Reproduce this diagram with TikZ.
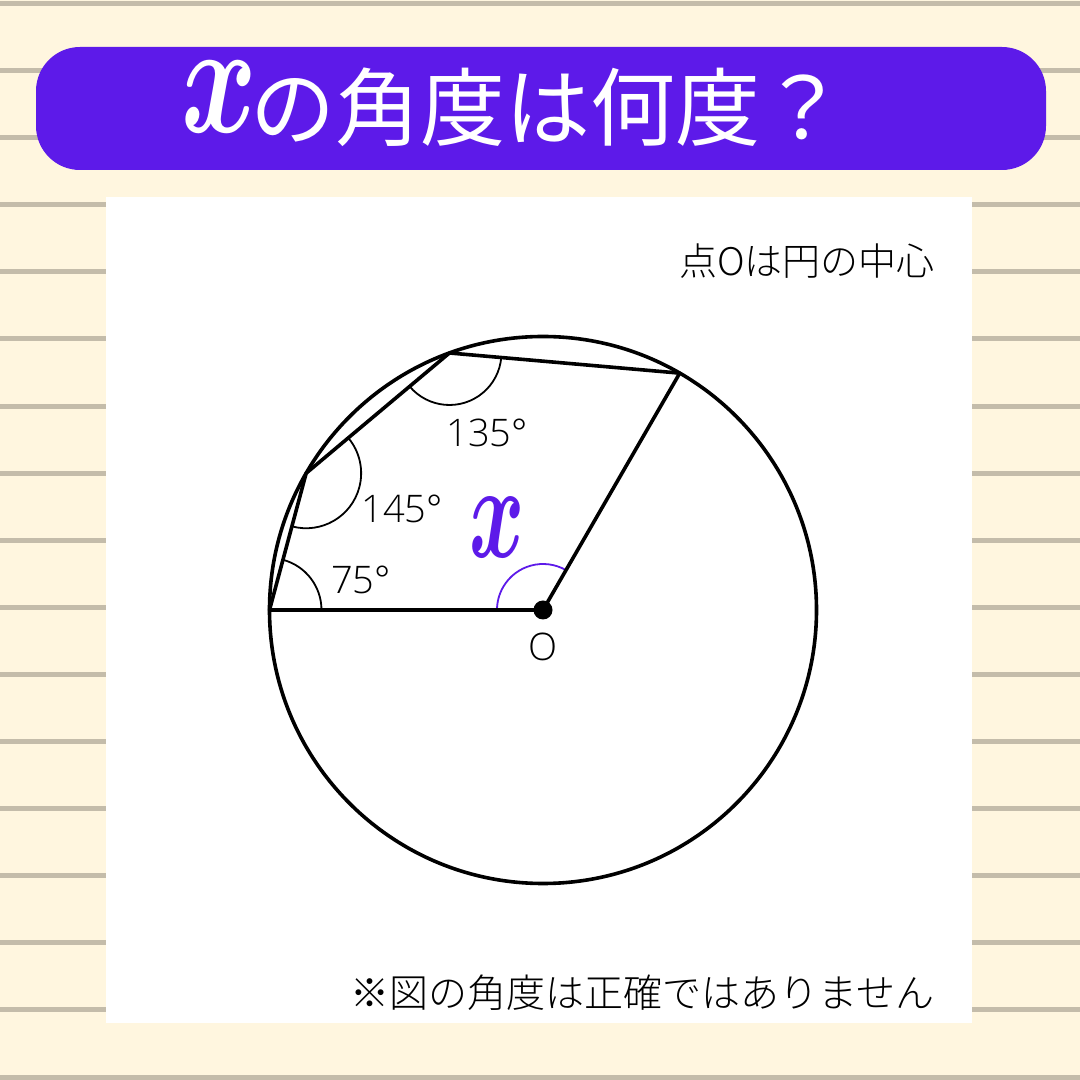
\documentclass[tikz,border=0pt]{standalone}
\usepackage{fontspec}
\usepackage{bm}
\setmainfont{Open Sans Light}
\newfontfamily\jp{Noto Sans CJK JP Light}
\newfontfamily\jpt{Noto Sans CJK JP}
\usetikzlibrary{calc}
\definecolor{cream}{RGB}{255,246,223}
\definecolor{stripe}{RGB}{196,188,170}
\definecolor{vio}{RGB}{93,26,233}
\tikzset{
  thick line/.style={line width=3.6pt, line join=round, line cap=round},
  angle arc/.style={line width=1.8pt},
  lbl/.style={inner sep=0pt, font=\fontsize{38}{40}\selectfont},
  jptext/.style={inner sep=0pt, font=\jp\fontsize{38}{40}\selectfont},
}
\begin{document}
\begin{tikzpicture}[x=1pt,y=1pt]
\useasboundingbox (0,0) rectangle (1080,1080);
\fill[cream] (0,0) rectangle (1080,1080);
\foreach \k in {0,...,16} {
  \fill[stripe] (0,{1076.5-67.1*\k-2.5}) rectangle (1080,{1076.5-67.1*\k+2.5});
}
% title bar
\fill[vio, rounded corners=44pt] (36,910) rectangle (1046,1033);
\node[text=white, inner sep=0pt] (tx) at (219,983) {\scalebox{11.5}[16]{$\bm{x}$}};
\node[text=white, inner sep=0pt, anchor=west, font=\jpt\fontsize{85}{90}\selectfont] (title) at (250,973) {の角度は何度？};
% panel
\fill[white] (106,57) rectangle (972,883);
\node[jptext, anchor=east] (note1) at (935,819) {点Oは円の中心};
\node[jptext, anchor=east, font=\jp\fontsize{39}{42}\selectfont] (note2) at (935,87) {※図の角度は正確ではありません};
% geometry
\def\R{273.5}
\coordinate (O) at (543,470);
\coordinate (A) at ($(O)+(180:\R)$);
\coordinate (B) at ($(O)+(150:\R)$);
\coordinate (C) at ($(O)+(110:\R)$);
\coordinate (D) at ($(O)+(60:\R)$);
% angle arcs
\draw[angle arc] ($(A)+(0:52)$) arc[start angle=0, end angle=75, radius=52];
\draw[angle arc] ($(B)+(255:55)$) arc[start angle=255, end angle=400, radius=55];
\draw[angle arc] ($(C)+(220:52)$) arc[start angle=220, end angle=355, radius=52];
\draw[angle arc, vio] ($(O)+(60:46)$) arc[start angle=60, end angle=180, radius=46];
% circle and polygon
\draw[thick line] (O) circle[radius=\R];
\draw[thick line] (O) -- (A) -- (B) -- (C) -- (D) -- cycle;
\fill (O) circle[radius=9.5];
% labels
\node[lbl] (l135) at (487,647) {135°};
\node[lbl] (l145) at (402,571) {145°};
\node[lbl] (l75) at (361,500) {75°};
\node[lbl] (lO) at (543,433) {O};
\node[inner sep=0pt, text=vio] (lx) at (497,552) {\scalebox{8.4}[13.5]{$\bm{x}$}};
\end{tikzpicture}
\end{document}
